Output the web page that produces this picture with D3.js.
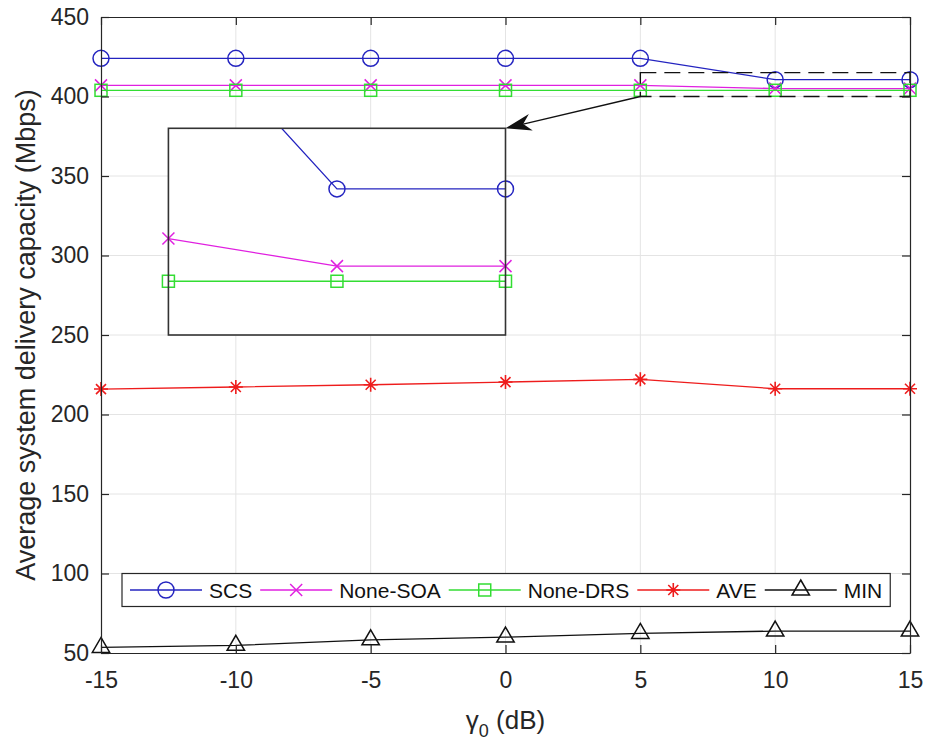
<!DOCTYPE html>
<html>
<head>
<meta charset="utf-8">
<script src="https://cdn.jsdelivr.net/npm/d3@7"></script>
<style>
  body { margin: 0; background: #fff; }
  svg { font-family: "Liberation Sans", Arial, sans-serif; }
</style>
</head>
<body>
<div id="chart"></div>
<script>
// data
const gamma = [-15, -10, -5, 0, 5, 10, 15];
const scs = [424, 424, 424, 424, 424, 410.6, 410.6];
const noneSOA = [407, 407, 407, 407, 407, 405, 405];
const noneDRS = [403.9, 403.9, 403.9, 403.9, 403.9, 403.9, 403.9];
const ave = [216, 217.3, 218.7, 220.4, 222.1, 216.2, 216.2];
const minCap = [53.5, 54.8, 58.3, 60, 62.3, 63.8, 63.8];

const xTicks = [-15, -10, -5, 0, 5, 10, 15];
const yTicks = [50, 100, 150, 200, 250, 300, 350, 400, 450];

// zoomed window (data) and where the inset sits (main axis coords)
const zoomX = [5, 15], zoomY = [400, 415];
const insetX = [-12.5, 0], insetY = [250, 380];

const series = [
  {name: "SCS", values: scs, color: "#2424c0", marker: "circle"},
  {name: "None-SOA", values: noneSOA, color: "#e020e0", marker: "cross"},
  {name: "None-DRS", values: noneDRS, color: "#33dd33", marker: "square"},
  {name: "AVE", values: ave, color: "#ee1c1c", marker: "star"},
  {name: "MIN", values: minCap, color: "#111111", marker: "triangle"}
];

const W = 927, H = 740;
const margin = {top: 17, right: 17, bottom: 87, left: 101};
const width = W - margin.left - margin.right;
const height = H - margin.top - margin.bottom;

const svg = d3.select("#chart").append("svg")
  .attr("width", W).attr("height", H);
const g = svg.append("g")
  .attr("transform", "translate(" + margin.left + "," + margin.top + ")");

const x = d3.scaleLinear().domain([-15, 15]).range([0, width]);
const y = d3.scaleLinear().domain([50, 450]).range([height, 0]);

// grid
g.append("g").selectAll("line").data(xTicks.slice(1, -1)).join("line")
  .attr("x1", d => x(d)).attr("x2", d => x(d))
  .attr("y1", 0).attr("y2", height)
  .attr("stroke", "#e4e4e4").attr("stroke-width", 1);
g.append("g").selectAll("line").data(yTicks.slice(1, -1)).join("line")
  .attr("x1", 0).attr("x2", width)
  .attr("y1", d => y(d)).attr("y2", d => y(d))
  .attr("stroke", "#e4e4e4").attr("stroke-width", 1);

function drawMarker(sel, type, color) {
  sel.each(function() {
    const m = d3.select(this);
    if (type === "circle") {
      m.append("circle").attr("r", 8)
        .attr("fill", "none").attr("stroke", color).attr("stroke-width", 1.5);
    } else if (type === "cross") {
      m.append("path").attr("d", "M-6,-6L6,6M-6,6L6,-6")
        .attr("stroke", color).attr("stroke-width", 1.5);
    } else if (type === "square") {
      m.append("rect").attr("x", -6).attr("y", -6).attr("width", 12).attr("height", 12)
        .attr("fill", "none").attr("stroke", color).attr("stroke-width", 1.5);
    } else if (type === "star") {
      m.append("path").attr("d", "M-7,0L7,0M0,-7L0,7M-5,-5L5,5M-5,5L5,-5")
        .attr("stroke", color).attr("stroke-width", 1.6);
    } else if (type === "triangle") {
      m.append("path").attr("d", "M0,-10L8.7,5L-8.7,5Z")
        .attr("fill", "none").attr("stroke", color).attr("stroke-width", 1.5);
    }
  });
}

series.forEach(s => {
  const pts = gamma.map((v, i) => [v, s.values[i]]);
  const line = d3.line().x(d => x(d[0])).y(d => y(d[1]));
  g.append("path").datum(pts).attr("d", line)
    .attr("fill", "none").attr("stroke", s.color).attr("stroke-width", 1.3);
  g.append("g").selectAll("g").data(pts).join("g")
    .attr("transform", d => "translate(" + x(d[0]) + "," + y(d[1]) + ")")
    .call(sel => drawMarker(sel, s.marker, s.color));
});

// dashed zoom window
g.append("rect")
  .attr("x", x(zoomX[0])).attr("y", y(zoomY[1]))
  .attr("width", x(zoomX[1]) - x(zoomX[0]))
  .attr("height", y(zoomY[0]) - y(zoomY[1]))
  .attr("fill", "none").attr("stroke", "#111").attr("stroke-width", 1.4)
  .attr("stroke-dasharray", "16,8");

// inset
const ix0 = x(insetX[0]), ix1 = x(insetX[1]);
const iy0 = y(insetY[1]), iy1 = y(insetY[0]);
const xi = d3.scaleLinear().domain(zoomX).range([ix0, ix1]);
const yi = d3.scaleLinear().domain(zoomY).range([iy1, iy0]);

svg.append("defs").append("clipPath").attr("id", "insetClip")
  .append("rect").attr("x", ix0).attr("y", iy0)
  .attr("width", ix1 - ix0).attr("height", iy1 - iy0);

g.append("rect").attr("x", ix0).attr("y", iy0)
  .attr("width", ix1 - ix0).attr("height", iy1 - iy0)
  .attr("fill", "#fff");
const insetG = g.append("g");
series.slice(0, 3).forEach(s => {
  const pts = gamma.map((v, i) => [v, s.values[i]]).filter(d => d[0] >= 0);
  const line = d3.line().x(d => xi(d[0])).y(d => yi(d[1]));
  insetG.append("path").datum(pts).attr("d", line)
    .attr("clip-path", "url(#insetClip)")
    .attr("fill", "none").attr("stroke", s.color).attr("stroke-width", 1.3);
  const inside = pts.filter(d => d[0] >= zoomX[0] && d[1] >= zoomY[0] && d[1] <= zoomY[1]);
  insetG.append("g").selectAll("g").data(inside).join("g")
    .attr("transform", d => "translate(" + xi(d[0]) + "," + yi(d[1]) + ")")
    .call(sel => drawMarker(sel, s.marker, s.color));
});
g.append("rect").attr("x", ix0).attr("y", iy0)
  .attr("width", ix1 - ix0).attr("height", iy1 - iy0)
  .attr("fill", "none").attr("stroke", "#333").attr("stroke-width", 1.6);

// arrow from zoom window to inset
const ax0 = x(zoomX[0]), ay0 = y(zoomY[0]);
const ax1 = ix1, ay1 = iy0;
const ang = Math.atan2(ay1 - ay0, ax1 - ax0);
const L = 26, hw = 8.5;
const bx = ax1 - L * Math.cos(ang), by = ay1 - L * Math.sin(ang);
const nx = ax1 - 0.7 * L * Math.cos(ang), ny = ay1 - 0.7 * L * Math.sin(ang);
const px = -Math.sin(ang), py = Math.cos(ang);
g.append("line")
  .attr("x1", ax0).attr("y1", ay0).attr("x2", nx).attr("y2", ny)
  .attr("stroke", "#111").attr("stroke-width", 1.4);
g.append("path")
  .attr("d", "M" + ax1 + "," + ay1 +
    "L" + (bx + hw * px) + "," + (by + hw * py) +
    "L" + nx + "," + ny +
    "L" + (bx - hw * px) + "," + (by - hw * py) + "Z")
  .attr("fill", "#111");

// axes
const axisColor = "#262626";
const fmt = d => String(d);
g.append("g").attr("transform", "translate(0," + height + ")")
  .call(d3.axisBottom(x).tickValues(xTicks).tickFormat(fmt)
    .tickSizeInner(-8).tickSizeOuter(0).tickPadding(19));
g.append("g")
  .call(d3.axisLeft(y).tickValues(yTicks).tickFormat(fmt)
    .tickSizeInner(-8).tickSizeOuter(0).tickPadding(12));
g.append("g")
  .call(d3.axisTop(x).tickValues(xTicks).tickSizeInner(-8).tickSizeOuter(0).tickFormat(""));
g.append("g").attr("transform", "translate(" + width + ",0)")
  .call(d3.axisRight(y).tickValues(yTicks).tickSizeInner(-8).tickSizeOuter(0).tickFormat(""));
g.selectAll(".domain").attr("stroke", axisColor).attr("stroke-width", 1.2);
g.selectAll(".tick line").attr("stroke", axisColor).attr("stroke-width", 1.2);
g.selectAll(".tick text")
  .attr("fill", "#262626").style("font-size", "23px")
  .style("font-family", "'Liberation Sans', Arial, sans-serif");

// legend
const leg = g.append("g");
const legY = y(100) + 16.5;
const legBox = leg.append("rect")
  .attr("x", x(-15) + 21).attr("y", y(100))
  .attr("height", 33).attr("fill", "#fff")
  .attr("stroke", axisColor).attr("stroke-width", 1.2);
let cx = x(-15) + 29;
series.forEach(s => {
  const it = leg.append("g");
  it.append("line").attr("x1", cx).attr("x2", cx + 72)
    .attr("y1", legY).attr("y2", legY)
    .attr("stroke", s.color).attr("stroke-width", 1.3);
  it.append("g").attr("transform", "translate(" + (cx + 36) + "," + legY + ")")
    .call(sel => drawMarker(sel, s.marker, s.color));
  const t = it.append("text").attr("x", cx + 79).attr("y", legY + 7.5)
    .style("font-size", "21px").attr("fill", "#111").text(s.name);
  cx += 79 + t.node().getComputedTextLength() + 8;
});
legBox.attr("width", cx - (x(-15) + 21));

// axis labels
svg.append("text")
  .attr("transform", "translate(35," + (margin.top + height / 2) + ") rotate(-90)")
  .attr("text-anchor", "middle").style("font-size", "27px").attr("fill", "#262626")
  .text("Average system delivery capacity (Mbps)");

const xl = svg.append("text")
  .attr("x", margin.left + width / 2).attr("y", 729)
  .attr("text-anchor", "middle").style("font-size", "26px").attr("fill", "#262626");
xl.append("tspan").text("\u03b3");
xl.append("tspan").attr("dy", 8).style("font-size", "18px").text("0");
xl.append("tspan").attr("dy", -8).text(" (dB)");
</script>
</body>
</html>
